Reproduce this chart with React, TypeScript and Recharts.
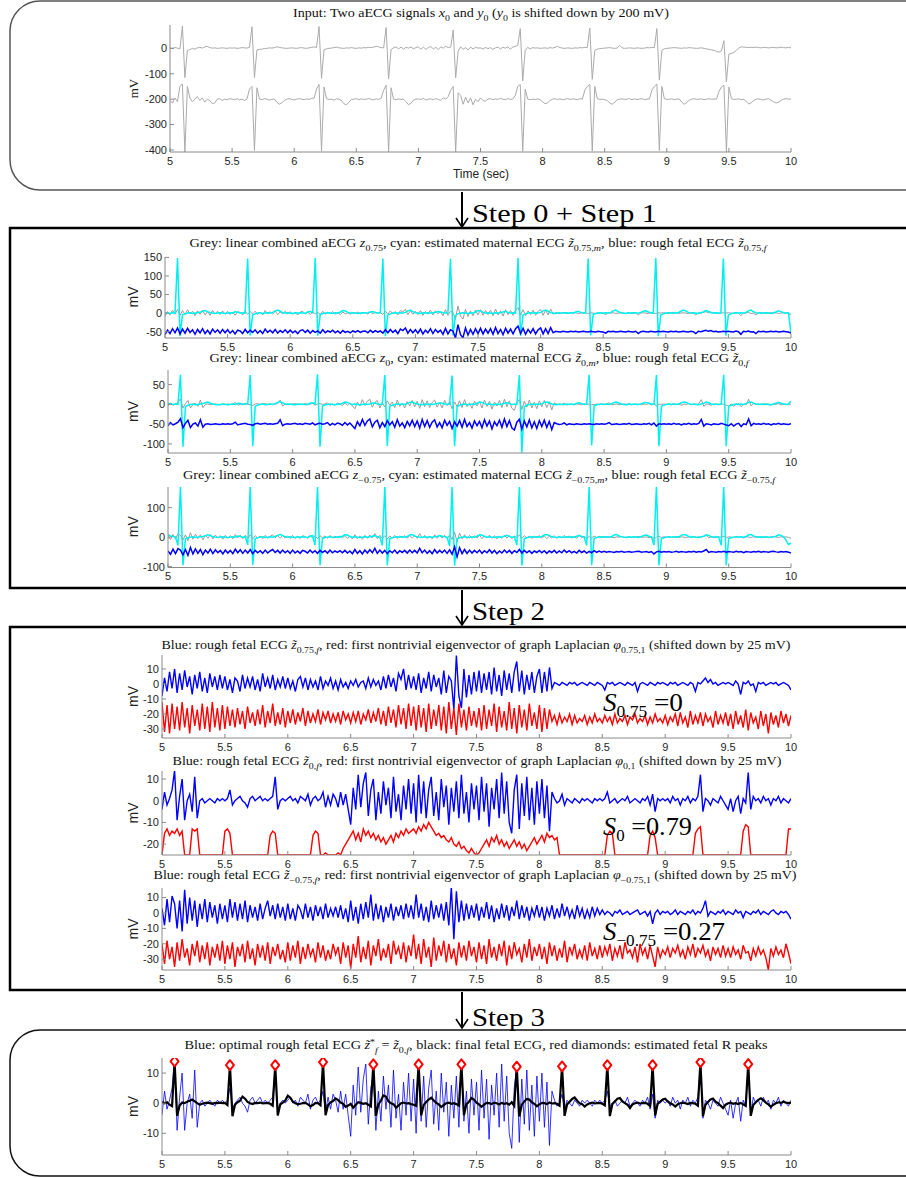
import React from 'react';
import { LineChart, Line, XAxis, YAxis } from 'recharts';

// Signals in mV, one value every 20 ms from 5.00 s to 10.00 s (rows of 0.5 s).
const x0Rows = [
  [2, 0, 3, 1, -2, 88, -115, -8, -5, 0, -3, 2, 4, 1, 6, 8, 3, 1, 2, 0, 1, 2, 1, 0, 2],
  [1, 2, 0, 1, 3, 2, 1, 4, 85, -115, -6, -4, -3, -1, 0, 2, 1, 3, 6, 4, 2, 1, 0, 1, 2],
  [1, 0, 2, 3, 1, 0, 2, 4, 6, 3, 86, -118, -6, -2, 0, 1, 3, 5, 2, 1, 0, 2, 1, 3, 1],
  [0, 2, 1, 3, 2, 4, 3, 5, 8, 6, 3, 2, 82, -120, -5, 2, 6, -2, 5, -3, 4, 1, 5, -2, 3],
  [6, -3, 5, -4, 3, 7, -2, 4, -5, 6, 1, 8, 3, 5, 72, -116, -10, 6, -4, 3, -6, 5, -2, 4, 1],
  [2, -3, 4, -1, 3, -4, 2, 5, -2, 4, 1, 6, -3, 5, 8, 12, 78, -128, -8, 4, -2, 3, 1, 2, 0],
  [1, 2, 0, 3, 1, 4, 8, 3, 1, 0, 2, 1, 0, 2, 1, 3, 2, 4, 3, 80, -122, -8, -3, -1, 0],
  [1, 2, 3, 1, 0, 1, 12, 2, 0, 1, 2, 1, 0, 2, 1, 0, 1, 3, 2, 4, 3, 78, -125, -8, -2],
  [0, 1, 2, 3, 2, 1, 0, 2, 1, 3, 2, 1, 0, 1, 2, 0, -2, -4, -6, -8, -12, -15, -10, 30, -132],
  [-22, -20, -16, -8, 2, 6, 5, 4, 3, 4, 3, 5, 3, 2, 4, 3, 2, 3, 4, 2, 3, 5, 3, 2, 4],
  [2],
];

const y0Rows = [
  [-205, -215, -195, -210, -150, -140, -408, -150, -195, -210, -200, -190, -205, -195, -212, -200, -205, -218, -215, -200, -198, -205, -200, -202, -198],
  [-200, -202, -198, -203, -200, -205, -199, -160, -150, -402, -155, -200, -202, -198, -200, -204, -201, -199, -212, -220, -215, -205, -200, -198, -201],
  [-203, -200, -198, -200, -202, -199, -201, -197, -196, -160, -142, -405, -152, -198, -201, -200, -204, -199, -200, -205, -218, -222, -212, -202, -200],
  [-198, -202, -199, -201, -200, -198, -200, -203, -199, -201, -197, -165, -145, -408, -155, -200, -202, -199, -201, -200, -210, -222, -216, -204, -200],
  [-199, -201, -197, -203, -200, -199, -202, -198, -201, -205, -195, -200, -190, -165, -150, -408, -175, -185, -220, -192, -215, -195, -222, -200, -210],
  [-195, -205, -208, -200, -198, -202, -199, -201, -197, -200, -202, -198, -201, -199, -185, -150, -142, -405, -160, -200, -202, -200, -201, -199, -202],
  [-210, -218, -215, -205, -200, -198, -201, -199, -202, -200, -198, -201, -199, -200, -202, -198, -200, -165, -150, -142, -404, -150, -198, -201, -200],
  [-202, -205, -215, -220, -212, -203, -200, -199, -201, -200, -198, -202, -199, -201, -200, -198, -202, -200, -199, -165, -150, -140, -402, -150, -198],
  [-201, -200, -199, -202, -200, -199, -212, -220, -214, -204, -200, -198, -201, -200, -199, -202, -200, -198, -201, -199, -200, -170, -152, -145, -408],
  [-152, -198, -201, -200, -199, -202, -200, -210, -219, -214, -205, -200, -199, -201, -203, -200, -198, -205, -210, -215, -212, -205, -200, -198, -200],
  [-199],
];

const maternal075Rows = [
  [1, 0, -1, 1, 0, 148, -62, -4, -2, 0, 1, -1, 0, 1, 2, 5, 7, 4, 1, 0, -1, 0, 1, 0, -1],
  [0, 1, 0, 4, 2, 0, 1, 0, 147, -60, -5, -2, 0, 1, -1, 0, 1, 0, 2, 6, 8, 5, 1, 0, 1],
  [0, -1, 1, 0, 1, 0, -1, 3, 5, 1, 148, -61, -4, -1, 0, 1, 0, -1, 1, 0, 3, 7, 6, 2, 0],
  [1, 0, -1, 0, 1, 0, 1, 3, 4, 1, 0, 1, 147, -62, -5, -2, 0, 1, 0, 1, 0, 2, 6, 8, 4],
  [1, 0, -1, 1, 0, 1, 0, 1, 2, 4, 3, 1, 0, 1, 146, -60, -6, -2, 0, 1, 0, -1, 1, 0, 3],
  [7, 6, 2, 0, 1, 0, -1, 1, 0, 1, 3, 5, 2, 0, 1, 0, 148, -61, -5, -2, 0, 1, 0, 1, 0],
  [2, 6, 8, 5, 1, 0, -1, 1, 0, 0, 1, 0, 1, 0, 3, 5, 2, 0, 1, 147, -60, -4, -1, 0, 1],
  [0, 1, 0, 2, 6, 8, 4, 1, 0, -1, 1, 0, 1, 0, 0, 2, 5, 6, 3, 1, 0, 148, -62, -5, -2],
  [0, 1, 0, 1, 0, 1, 5, 8, 6, 2, 0, 1, 0, -1, 1, 3, 7, 5, 1, 0, 1, 0, 1, 147, -61],
  [-5, -2, 0, 1, 0, 1, 0, 2, 6, 8, 4, 1, 0, 1, 0, 1, 0, -1, 1, 3, 6, 4, 1, 0, 1],
  [-55],
];

const maternal0Rows = [
  [2, 1, 0, 1, 0, 75, -107, -6, -2, 0, 1, -1, 0, 1, 2, 4, 6, 3, 1, 0, -1, 0, 1, 0, -1],
  [0, 1, 0, 3, 2, 0, 1, 2, 74, -106, -5, -2, 0, 1, -1, 0, 1, 0, 2, 5, 7, 4, 1, 0, 1],
  [0, -1, 1, 0, 1, 0, -1, 3, 4, 1, 76, -107, -4, -1, 0, 1, 0, -1, 1, 0, 3, 6, 5, 2, 0],
  [1, 0, -1, 0, 1, 0, 1, 3, 4, 1, 0, 1, 74, -105, -5, -2, 0, 1, 0, 1, 0, 2, 5, 6, 3],
  [1, 0, -1, 1, 0, 1, 0, 1, 2, 4, 3, 1, 0, 1, 73, -106, -6, -2, 0, 1, 0, -1, 1, 0, 3],
  [6, 5, 2, 0, 1, 0, -1, 1, 0, 1, 3, 4, 2, 0, 1, 0, 74, -122, -6, -2, 0, 1, 0, 1, 0],
  [2, 5, 6, 4, 1, 0, -1, 1, 0, 0, 1, 0, 1, 0, 3, 4, 2, 0, 1, 75, -104, -4, -1, 0, 1],
  [0, 1, 0, 2, 5, 6, 3, 1, 0, -1, 1, 0, 1, 0, 0, 2, 4, 5, 3, 1, 0, 74, -106, -5, -2],
  [0, 1, 0, 1, 0, 1, 4, 6, 5, 2, 0, 1, 0, -1, 1, 3, 6, 4, 1, 0, 1, 0, 1, 75, -106],
  [-5, -2, 0, 1, 0, 1, 0, 2, 5, 6, 3, 1, 0, 1, 0, 1, 0, -1, 1, 3, 5, 3, 1, 0, 1],
  [8],
];

const maternalM075Rows = [
  [8, 4, 2, 1, -28, 172, -95, -6, -2, 0, 1, -1, 0, 1, 2, 5, 8, 5, 1, 0, -1, 0, 1, 0, -1],
  [0, 1, 0, 4, 2, 0, 1, -26, 171, -94, -5, -2, 0, 1, -1, 0, 1, 0, 2, 6, 9, 6, 1, 0, 1],
  [0, -1, 1, 0, 1, 0, -1, 3, 5, -27, 172, -95, -4, -1, 0, 1, 0, -1, 1, 0, 3, 8, 7, 2, 0],
  [1, 0, -1, 0, 1, 0, 1, 3, 5, 1, 0, -28, 171, -96, -5, -2, 0, 1, 0, 1, 0, 2, 7, 9, 4],
  [1, 0, -1, 1, 0, 1, 0, 1, 2, 5, 3, 1, 0, -30, 170, -97, -6, -2, 0, 1, 0, -1, 1, 0, 3],
  [8, 7, 2, 0, 1, 0, -1, 1, 0, 1, 3, 6, 2, 0, 1, -27, 172, -96, -5, -2, 0, 1, 0, 1, 0],
  [2, 7, 9, 5, 1, 0, -1, 1, 0, 0, 1, 0, 1, 0, 3, 6, 2, 0, -28, 171, -95, -4, -1, 0, 1],
  [0, 1, 0, 2, 7, 9, 4, 1, 0, -1, 1, 0, 1, 0, 0, 2, 6, 7, 3, 1, -27, 172, -96, -5, -2],
  [0, 1, 0, 1, 0, 1, 6, 9, 7, 2, 0, 1, 0, -1, 1, 3, 8, 6, 1, 0, 1, 0, -28, 171, -95],
  [-5, -2, 0, 1, 0, 1, 0, 2, 7, 9, 4, 1, 0, 1, 0, 1, 0, -1, 1, 3, 8, 6, 1, -10, -25],
  [-20],
];

// rough fetal ECGs
const fetal075Rows = [
  [-8, 4, -5, 8, -3, 10, -6, 7, -4, 9, -2, 5, -7, 6, -3, 8, -5, 4, -6, 7, -2, 5, -4, 6, -3],
  [5, -4, 3, -6, 4, 2, -5, 6, -3, 4, -2, 5, -4, 3, -5, 7, -2, 4, -3, 6, -4, 3, -2, 5, -3],
  [4, -3, 2, -5, 3, 5, -2, 4, -4, 3, -2, 2, -4, 5, -3, 2, -1, 4, -3, 2, -4, 3, -2, 1, -3],
  [2, -1, 3, -2, 1, 2, -3, 4, -2, 3, -1, 2, -4, 5, -3, 6, -2, 4, -5, 7, 3, 10, -4, 6, -3],
  [5, -4, 7, -6, 4, -3, 8, -5, 6, -2, 4, -7, 9, -6, 5, 2, -17, 19, -8, -16, 10, -9, 6, -7, 8],
  [-5, 9, -6, 7, -4, 8, -7, 11, -5, 6, -8, 9, -4, 7, -6, 8, 15, -5, 9, -7, 6, -4, 8, -6, 5],
  [10, -6, 8, -5, 11, -3, 1, 0, -1, 1, 0, -1, 1, 0, 1, -1, 0, 1, 0, -1, 1, 0, -1, 1, 0],
  [-1, -4, 1, 0, 1, -1, 0, 1, 0, -1, 1, 0, -1, 1, -5, 0, 1, 0, -1, 1, 0, -1, 1, 0, 1],
  [0, -1, 1, 0, 1, -1, 0, 1, 0, -1, 1, 0, -5, 1, 0, 2, 4, 1, 3, 0, 1, -1, 0, 1, 0],
  [1, 0, -1, 2, 0, -7, 1, 0, 2, -1, 0, -5, 1, 0, 1, -1, 0, 1, 0, 1, -1, 0, 1, 0, -1],
  [-4],
];

const fetal0Rows = [
  [-4, 4, -2, 1, 5, 14, -9, 2, 10, -9, 0, 3, -5, 11, -8, 0, 1, -1, 0, 1, 0, -1, 1, 0, 1],
  [0, 1, 5, -2, 0, 1, 2, 0, -1, -3, 1, 2, 0, 1, 2, 0, 1, 0, 1, 2, 11, -4, 0, 1, 0],
  [1, 2, 0, 1, -1, 2, 1, 0, 3, -2, 1, 2, 0, 1, 4, -3, 2, -2, 3, 1, -3, 4, -2, 3, -4],
  [-11, 6, -4, 12, -3, 8, 13, -7, 5, 10, -9, 4, -6, 9, -2, 6, -8, 11, -5, 3, -9, 7, -4, 10, -6],
  [8, -10, 12, -6, 9, -8, 5, 11, -7, 4, -9, 10, -3, 7, -11, 6, -5, 9, -8, 12, -6, 4, -10, 8, -4],
  [7, -9, 11, -5, 8, -12, 6, -4, 10, -8, 13, -6, 9, -10, -15, 5, 12, -13, 8, -7, 11, -9, 6, -11, 9],
  [-6, 10, -8, 7, -14, 4, 1, -1, 0, 3, -2, 1, 0, -1, 1, 0, -1, 1, 0, 1, 0, -1, 1, 0, 1],
  [0, 1, 4, -1, 0, 1, -1, 0, 1, 0, 2, -1, 0, 1, 0, -1, 1, 0, 2, -2, 3, -5, 1, 0, 1],
  [0, 1, -1, 2, 0, 1, -2, 1, 0, 2, -1, 1, 0, 2, 12, -5, 1, 0, -2, 1, 0, -1, 2, 0, -2],
  [-4, 1, -5, 0, 2, -6, 1, -1, 13, -4, 2, 0, 1, -1, 2, 0, 1, -2, 1, 0, 2, -1, 1, 0, -1],
  [1],
];

const fetalM075Rows = [
  [3, -8, 9, -6, 11, 6, -10, 8, -12, 15, -7, 10, -5, 8, -9, 6, -4, 9, -6, 7, -3, 5, -7, 6, -4],
  [5, -6, 9, -3, 7, -5, 6, -4, 8, -6, 5, -3, 4, -5, 6, -4, 3, 8, -2, 5, -4, 6, -3, 4, -5],
  [6, -4, 3, -5, 5, 2, -4, 6, -3, 4, -5, 5, -2, 4, -4, 6, -3, 3, -2, 4, -3, 5, -4, 3, -6],
  [8, -5, 4, -7, 6, -4, 7, -3, 12, -5, 6, -4, 5, -6, 4, -3, 6, -5, 4, -2, 5, -4, 6, -3, 5],
  [-4, 12, -3, 6, -5, 4, -6, 8, -4, 5, -3, 6, -5, 7, -8, 17, -17, 14, -6, 8, -5, 6, -4, 5, -3],
  [6, -5, 4, -3, 7, -4, 5, -6, 3, -4, 6, -3, 5, -5, 4, -2, 8, -4, 5, -3, 4, -5, 3, -2, 5],
  [-3, 4, -5, 3, -2, 5, -4, 3, -3, 6, -2, 4, -3, 2, -4, 5, -2, 3, -4, 2, -3, 4, -2, 3, -1],
  [2, -1, 1, 0, -2, 1, 0, 2, -1, 0, 1, -1, 0, 1, 2, -1, 0, 1, -2, 1, -7, 0, 2, -1, 1],
  [0, 1, -1, 0, 2, -1, 1, 0, -1, 1, 0, 2, -1, 1, 0, 3, 8, -2, 1, 0, -1, 1, 0, 2, -1],
  [1, 0, -1, 2, 0, 1, -3, 1, 0, -1, 1, 0, 2, -1, 1, 0, -1, 1, 2, 0, -1, 1, 0, 1, -1],
  [-4],
];

// first nontrivial eigenvectors (already shifted down by 25 mV)
const eig075Rows = [
  [-12, -32, -14, -33, -13, -30, -15, -31, -12, -29, -16, -33, -14, -28, -17, -31, -13, -30, -15, -32, -12, -29, -16, -31, -14],
  [-30, -15, -28, -17, -29, -16, -27, -18, -30, -15, -26, -19, -28, -17, -27, -14, -29, -18, -26, -13, -28, -19, -27, -16, -29],
  [-18, -26, -17, -27, -19, -25, -16, -28, -18, -26, -20, -25, -17, -27, -19, -24, -18, -26, -20, -25, -19, -27, -18, -24, -20],
  [-26, -19, -25, -18, -27, -20, -24, -17, -26, -19, -25, -16, -27, -18, -28, -15, -26, -17, -29, -14, -27, -16, -30, -13, -28],
  [-15, -31, -14, -29, -16, -32, -13, -30, -17, -28, -14, -31, -15, -33, -12, -30, -16, -34, -13, -29, -17, -31, -15, -28, -18],
  [-29, -16, -31, -14, -30, -17, -28, -13, -32, -15, -29, -18, -31, -12, -30, -16, -33, -14, -29, -17, -31, -13, -28, -19, -30],
  [-14, -32, -16, -30, -17, -25, -21, -27, -20, -26, -22, -25, -20, -27, -21, -26, -23, -25, -21, -27, -22, -26, -20, -25, -23],
  [-26, -21, -25, -22, -27, -20, -26, -23, -25, -21, -27, -22, -24, -20, -26, -23, -25, -21, -27, -22, -26, -20, -25, -23, -26],
  [-21, -27, -22, -25, -20, -28, -19, -26, -22, -29, -18, -27, -21, -26, -19, -28, -20, -25, -22, -29, -18, -27, -21, -26, -19],
  [-28, -20, -30, -18, -27, -21, -29, -17, -31, -19, -26, -22, -30, -18, -28, -20, -33, -19, -27, -21, -29, -18, -26, -20, -28],
  [-21],
];

const eig0Rows = [
  [-25, -15, -13, -16, -14, -15, -13, -16, -14, -25, -25, -25, -13, -14, -13, -25, -25, -25, -25, -25, -25, -25, -25, -25, -25],
  [-14, -13, -15, -25, -25, -25, -25, -25, -25, -25, -25, -25, -25, -25, -25, -25, -25, -25, -16, -14, -15, -25, -25, -25, -25],
  [-25, -25, -25, -25, -25, -25, -25, -25, -25, -25, -16, -14, -15, -25, -25, -24, -25, -25, -25, -25, -24, -25, -22, -20, -18],
  [-16, -14, -18, -15, -19, -13, -16, -14, -17, -15, -18, -16, -19, -17, -20, -18, -16, -19, -15, -17, -14, -16, -13, -15, -14],
  [-13, -15, -12, -14, -11, -13, -10, -12, -14, -16, -15, -17, -16, -18, -19, -17, -20, -21, -19, -22, -21, -23, -24, -22, -24],
  [-25, -24, -22, -20, -18, -21, -17, -19, -16, -20, -18, -21, -19, -22, -20, -18, -21, -19, -22, -20, -23, -21, -19, -17, -20],
  [-18, -16, -19, -15, -17, -16, -18, -17, -25, -25, -25, -25, -25, -25, -25, -25, -25, -25, -25, -25, -25, -25, -25, -25, -25],
  [-25, -25, -16, -14, -15, -25, -25, -25, -25, -25, -25, -25, -25, -25, -25, -25, -25, -25, -25, -16, -14, -17, -25, -25, -25],
  [-25, -25, -25, -25, -25, -25, -25, -25, -25, -25, -25, -25, -15, -13, -12, -25, -25, -25, -25, -25, -25, -25, -25, -25, -25],
  [-25, -25, -25, -25, -25, -25, -14, -11, -12, -25, -25, -25, -25, -25, -25, -25, -25, -25, -25, -25, -25, -25, -25, -25, -13],
  [-13],
];

const eigM075Rows = [
  [-20, -33, -18, -30, -22, -35, -19, -31, -17, -29, -23, -34, -20, -28, -18, -32, -21, -30, -19, -34, -22, -29, -20, -31, -18],
  [-33, -21, -30, -19, -35, -22, -28, -20, -32, -18, -30, -23, -34, -20, -29, -21, -31, -19, -33, -22, -28, -20, -30, -24, -32],
  [-19, -31, -21, -29, -18, -33, -22, -30, -20, -28, -23, -32, -19, -29, -21, -31, -24, -30, -20, -27, -22, -33, -19, -29, -21],
  [-36, -20, -29, -15, -32, -22, -30, -18, -34, -21, -28, -17, -31, -23, -29, -20, -33, -18, -27, -22, -30, -19, -32, -21, -28],
  [-14, -30, -20, -33, -17, -29, -22, -35, -16, -31, -21, -28, -18, -32, -20, -30, -23, -34, -19, -29, -21, -31, -18, -28, -22],
  [-32, -19, -30, -21, -33, -17, -29, -22, -31, -20, -28, -18, -34, -21, -30, -19, -27, -23, -32, -20, -29, -17, -31, -22, -28],
  [-20, -30, -22, -33, -19, -28, -21, -31, -23, -29, -18, -32, -22, -27, -20, -30, -24, -29, -21, -31, -19, -28, -23, -30, -21],
  [-29, -22, -27, -20, -31, -23, -28, -21, -30, -19, -26, -24, -29, -22, -32, -20, -27, -23, -30, -21, -28, -35, -22, -29, -24],
  [-27, -22, -29, -23, -26, -21, -28, -24, -30, -22, -27, -20, -29, -23, -26, -21, -28, -24, -31, -22, -27, -23, -29, -21, -28],
  [-23, -29, -22, -27, -24, -30, -21, -26, -25, -31, -23, -28, -22, -27, -24, -29, -37, -23, -28, -22, -27, -24, -29, -20, -26],
  [-33],
];

// final fetal ECG and its R peaks
const finalFetalRows = [
  [0.5, 0, 0.3, -0.5, -1, 13.9, -4.2, -0.8, 0.2, 0, 0.5, 0.8, 1.2, 0.6, 0, -0.5, -0.2, 0, 0.2, 0, -0.2, 0.1, 0, 0.2, 0],
  [0.1, -0.6, 12.6, -4.3, -0.5, 0.3, 0.8, 2.2, 1.5, 0.4, 0, -0.3, 0.1, 0, 0.2, -0.1, 0, 0.1, -0.2, -0.8, 12.6, -4.1, -0.4, 0.2, 0.9],
  [2.5, 1.8, 0.5, 0, -0.3, -0.2, 0, 0.1, -0.4, -1, -0.6, 0.1, 0, -0.7, 13.6, -4, -0.6, 0.3, 0.7, 1.6, 1.0, 0.2, -0.2, -1.2, -0.8],
  [-0.2, -1.5, -0.5, 0.3, 0.1, -0.2, 0, -0.5, -1.1, 12.9, -4.2, -0.4, 0.8, 2.6, 2.2, 0.6, 0, -0.3, -1.5, -0.8, 0, 0.2, -0.1, 0, -0.3],
  [-0.5, -0.9, 12.9, -4.1, -0.6, 0.4, 1.2, 1.8, 0.9, 0.1, -0.4, -1.3, -0.6, 0, 0.2, -0.2, 0, -0.3, -0.8, 12.9, -4, -0.3, 0.5, 1.7, 1.2],
  [0.2, -0.4, -1.2, -0.5, 0.1, 0, -0.3, 0.2, 0, -0.4, 0.1, -0.2, 0, -0.5, 0.3, -0.9, 12.1, -4.4, -0.5, 0.6, 1.4, 1.2, 0.3, -0.2, -1],
  [-0.4, 0.1, 0, -0.3, 0.2, -0.1, 0, -0.2, -0.8, 12.2, -4.2, -0.4, 0.5, 1.4, 1.9, 0.8, 0, -0.3, -1.1, -0.4, 0, 0.2, -0.1, 0, 0.1],
  [-0.2, -0.7, 12.6, -4.3, -0.3, 0.6, 1.5, 1.7, 0.6, 0, -0.5, -1.6, -0.4, 0, 0.2, -0.1, 0, 0.1, -0.2, -0.9, 12.6, -4.1, -0.2, 0.5, 1.2],
  [1.5, 0.6, 0, -0.4, -1.1, -0.3, 0, 0.2, 0, -0.3, 0.1, 0, -0.2, -0.8, 13.6, -4.3, -0.5, 0.4, 1.2, 1.5, 0.5, 0, -0.8, -1.6, -0.5],
  [0, 0.2, -0.2, 0, -0.3, 0.1, -0.4, -0.9, 13.0, -4.2, -0.6, 0.3, 1.1, 1.6, 1.0, 0.2, -0.4, -1.2, -0.5, 0, 0.3, 0.1, 0.5, 0.2, 0],
  [0.2],
];

const peakTimes = [5.1, 5.54, 5.9, 6.28, 6.68, 7.04, 7.38, 7.82, 8.18, 8.54, 8.9, 9.28, 9.66];
const peakValues = [13.9, 12.6, 12.6, 13.6, 12.9, 12.9, 12.9, 12.1, 12.2, 12.6, 12.6, 13.6, 13.0];

const xTicks = [5, 5.5, 6, 6.5, 7, 7.5, 8, 8.5, 9, 9.5, 10];

const T0 = 5;
const DT = 0.02;
const W = 906;
const H = 1178;
const RIGHT = 791;
const PAD_T = 12;
const AX_H = 30;
const YW = 40;

const SERIF = '"Liberation Serif", "Times New Roman", serif';
const SANS = '"Liberation Sans", Arial, sans-serif';

const x0 = x0Rows.flat();
const y0 = y0Rows.flat();
const mat075 = maternal075Rows.flat();
const mat0 = maternal0Rows.flat();
const matM075 = maternalM075Rows.flat();
const fet075 = fetal075Rows.flat();
const fet0 = fetal0Rows.flat();
const fetM075 = fetalM075Rows.flat();
const eig075 = eig075Rows.flat();
const eig0 = eig0Rows.flat();
const eigM075 = eigM075Rows.flat();
const finalFetal = finalFetalRows.flat();

const peakCol: (number | undefined)[] = [];
peakTimes.forEach((t, k) => { peakCol[Math.round((t - T0) / DT)] = peakValues[k]; });

// blue traces in step 1 are drawn 50 mV below the others
const down50 = (arr: number[]) => arr.map(v => v - 50);

function table(cols: Record<string, (number | undefined)[]>) {
  const keys = Object.keys(cols);
  const n = cols[keys[0]].length;
  return Array.from({ length: n }, (_, i) => {
    const row: Record<string, number | undefined> = { t: Math.round((T0 + i * DT) * 100) / 100 };
    keys.forEach(k => { row[k] = cols[k][i]; });
    return row;
  });
}

type LineCfg = { key: string; color: string; width: number };
type PanelCfg = {
  top: number; bottom: number; left: number;
  domain: [number, number]; ticks: number[];
  data: Record<string, number | undefined>[]; lines: LineCfg[]; diamonds?: boolean;
};

const GREY = '#9a9a9a';
const CYAN = '#00f0f0';
const BLUE = '#0000ff';
const RED = '#ff0000';

const panels: PanelCfg[] = [
  {
    top: 25, bottom: 152, left: 170, domain: [-408, 92], ticks: [-400, -300, -200, -100, 0],
    data: table({ x0, y0 }),
    lines: [{ key: 'x0', color: '#ababab', width: 1 }, { key: 'y0', color: '#ababab', width: 1 }],
  },
  {
    top: 256.5, bottom: 337.5, left: 165, domain: [-67, 151], ticks: [-50, 0, 50, 100, 150],
    data: table({ g: fet075, c: mat075, b: down50(fet075) }),
    lines: [{ key: 'g', color: GREY, width: 1 }, { key: 'c', color: CYAN, width: 1.5 }, { key: 'b', color: BLUE, width: 1.5 }],
  },
  {
    top: 370, bottom: 453, left: 168, domain: [-123, 87], ticks: [-100, -50, 0, 50],
    data: table({ g: fet0, c: mat0, b: down50(fet0) }),
    lines: [{ key: 'g', color: GREY, width: 1 }, { key: 'c', color: CYAN, width: 1.5 }, { key: 'b', color: BLUE, width: 1.5 }],
  },
  {
    top: 486.5, bottom: 567, left: 168, domain: [-103, 170], ticks: [-100, 0, 100],
    data: table({ g: fetM075, c: matM075, b: down50(fetM075) }),
    lines: [{ key: 'g', color: GREY, width: 1 }, { key: 'c', color: CYAN, width: 1.5 }, { key: 'b', color: BLUE, width: 1.5 }],
  },
  {
    top: 655, bottom: 738, left: 162, domain: [-36, 19.3], ticks: [-30, -20, -10, 0, 10],
    data: table({ b: fet075, r: eig075 }),
    lines: [{ key: 'b', color: BLUE, width: 1.4 }, { key: 'r', color: RED, width: 1.4 }],
  },
  {
    top: 771, bottom: 855, left: 162, domain: [-25, 13.7], ticks: [-20, -10, 0, 10],
    data: table({ b: fet0, r: eig0 }),
    lines: [{ key: 'b', color: BLUE, width: 1.4 }, { key: 'r', color: RED, width: 1.4 }],
  },
  {
    top: 888, bottom: 970, left: 162, domain: [-37, 16.2], ticks: [-30, -20, -10, 0, 10],
    data: table({ b: fetM075, r: eigM075 }),
    lines: [{ key: 'b', color: BLUE, width: 1.4 }, { key: 'r', color: RED, width: 1.4 }],
  },
  {
    top: 1058, bottom: 1155, left: 162, domain: [-17.2, 15], ticks: [-10, 0, 10],
    data: table({ b: fet0, k: finalFetal, pk: peakCol }),
    lines: [{ key: 'b', color: BLUE, width: 0.8 }, { key: 'k', color: '#000', width: 2.2 }],
    diamonds: true,
  },
];

type Seg = [string, 'n' | 'i' | 's' | 'si' | 'p'];
const Z = 'z\u0303';

const titles: { x: number; y: number; w: number; segs: Seg[] }[] = [
  { x: 481, y: 17, w: 376, segs: [['Input: Two aECG signals ', 'n'], ['x', 'i'], ['0', 's'], [' and ', 'n'], ['y', 'i'], ['0', 's'], [' (', 'n'], ['y', 'i'], ['0', 's'], [' is shifted down by 200 mV)', 'n']] },
  { x: 478, y: 247, w: 577, segs: [['Grey: linear combined aECG ', 'n'], ['z', 'i'], ['0.75', 's'], [', cyan: estimated maternal ECG ', 'n'], [Z, 'i'], ['0.75,', 's'], ['m', 'si'], [', blue: rough fetal ECG ', 'n'], [Z, 'i'], ['0.75,', 's'], ['f', 'si']] },
  { x: 479, y: 362, w: 539, segs: [['Grey: linear combined aECG ', 'n'], ['z', 'i'], ['0', 's'], [', cyan: estimated maternal ECG ', 'n'], [Z, 'i'], ['0,', 's'], ['m', 'si'], [', blue: rough fetal ECG ', 'n'], [Z, 'i'], ['0,', 's'], ['f', 'si']] },
  { x: 479, y: 479, w: 592, segs: [['Grey: linear combined aECG ', 'n'], ['z', 'i'], ['\u22120.75', 's'], [', cyan: estimated maternal ECG ', 'n'], [Z, 'i'], ['\u22120.75,', 's'], ['m', 'si'], [', blue: rough fetal ECG ', 'n'], [Z, 'i'], ['\u22120.75,', 's'], ['f', 'si']] },
  { x: 476, y: 649, w: 629, segs: [['Blue: rough fetal ECG ', 'n'], [Z, 'i'], ['0.75,', 's'], ['f', 'si'], [', red: first nontrivial eigenvector of graph Laplacian ', 'n'], ['\u03c6', 'i'], ['0.75,1', 's'], [' (shifted down by 25 mV)', 'n']] },
  { x: 477, y: 765, w: 609, segs: [['Blue: rough fetal ECG ', 'n'], [Z, 'i'], ['0,', 's'], ['f', 'si'], [', red: first nontrivial eigenvector of graph Laplacian ', 'n'], ['\u03c6', 'i'], ['0,1', 's'], [' (shifted down by 25 mV)', 'n']] },
  { x: 475, y: 879, w: 643, segs: [['Blue: rough fetal ECG ', 'n'], [Z, 'i'], ['\u22120.75,', 's'], ['f', 'si'], [', red: first nontrivial eigenvector of graph Laplacian ', 'n'], ['\u03c6', 'i'], ['\u22120.75,1', 's'], [' (shifted down by 25 mV)', 'n']] },
  { x: 476, y: 1049, w: 583, segs: [['Blue: optimal rough fetal ECG ', 'n'], [Z, 'i'], ['*', 'p'], ['f', 'si'], [' = ', 'n'], [Z, 'i'], ['0,', 's'], ['f', 'si'], [', black: final fetal ECG, red diamonds: estimated fetal R peaks', 'n']] },
];

function Rich({ segs, size }: { segs: Seg[]; size: number }) {
  let shift = 0;
  return (
    <>
      {segs.map(([txt, st], k) => {
        const target = st === 's' || st === 'si' ? size * 0.3 : st === 'p' ? -size * 0.35 : 0;
        const dy = target - shift;
        shift = target;
        return (
          <tspan key={k} dy={dy !== 0 ? dy : undefined} fontSize={target !== 0 ? size * 0.7 : size}
            fontStyle={st === 'i' || st === 'si' ? 'italic' : 'normal'}>{txt}</tspan>
        );
      })}
    </>
  );
}

const renderDiamond = (props: any) => {
  const { cx, cy, value, index } = props;
  if (value == null || cx == null || cy == null) return <g key={`d${index}`} />;
  return (
    <path key={`d${index}`} d={`M${cx},${cy - 5} L${cx + 4},${cy} L${cx},${cy + 5} L${cx - 4},${cy} Z`}
      fill="#fff" stroke={RED} strokeWidth={2} strokeLinejoin="round" />
  );
};

const axisStroke = '#8a8a8a';
const tickStyle = { fill: '#262626', fontSize: 11, fontFamily: SANS };

function Panel({ cfg }: { cfg: PanelCfg }) {
  const plotH = cfg.bottom - cfg.top;
  return (
    <div style={{ position: 'absolute', left: 0, top: cfg.top - PAD_T }}>
      <LineChart width={W} height={plotH + PAD_T + AX_H} data={cfg.data}
        margin={{ top: PAD_T, right: W - RIGHT, bottom: 0, left: cfg.left - YW }}>
        <XAxis dataKey="t" type="number" domain={[5, 10]} ticks={xTicks} interval={0} allowDataOverflow
          height={AX_H} tickSize={-4} tickMargin={9} stroke={axisStroke} tick={tickStyle} />
        <XAxis xAxisId="top" orientation="top" dataKey="t" type="number" domain={[5, 10]} ticks={xTicks}
          interval={0} allowDataOverflow height={0} tickSize={-4} tick={false} stroke={axisStroke} />
        <YAxis type="number" domain={cfg.domain} ticks={cfg.ticks} interval={0} allowDataOverflow
          width={YW} tickSize={-4} tickMargin={7} stroke={axisStroke} tick={tickStyle} />
        <YAxis yAxisId="right" orientation="right" type="number" domain={cfg.domain} ticks={cfg.ticks}
          interval={0} allowDataOverflow width={0} tickSize={-4} tick={false} stroke={axisStroke} />
        {cfg.lines.map(l => (
          <Line key={l.key} dataKey={l.key} type="linear" stroke={l.color} strokeWidth={l.width}
            dot={false} activeDot={false} isAnimationActive={false} />
        ))}
        {cfg.diamonds && (
          <Line dataKey="pk" stroke="none" dot={renderDiamond} activeDot={false} isAnimationActive={false} />
        )}
      </LineChart>
    </div>
  );
}

function Arrow({ y1, y2, label, len, base }: { y1: number; y2: number; label: string; len: number; base: number }) {
  return (
    <g>
      <line x1={462} y1={y1} x2={462} y2={y2} stroke="#000" strokeWidth={2} />
      <path d={`M456,${y2 - 9} L462,${y2} L468,${y2 - 9}`} fill="none" stroke="#000" strokeWidth={1.6} />
      <text x={472} y={base} fontFamily={SERIF} fontSize={26} textLength={len} lengthAdjust="spacingAndGlyphs">{label}</text>
    </g>
  );
}

function Score({ x, y, w, sub, val }: { x: number; y: number; w: number; sub: string; val: string }) {
  return (
    <text x={x} y={y} fontFamily={SERIF} fontSize={25} textLength={w} lengthAdjust="spacingAndGlyphs" style={{ whiteSpace: 'pre' }}>
      <tspan fontStyle="italic">S</tspan>
      <tspan dy={6} fontSize={16}>{sub}</tspan>
      <tspan dy={-6}>{` =${val}`}</tspan>
    </text>
  );
}

export default function App() {
  return (
    <div style={{ position: 'absolute', left: 0, top: 0, width: W, height: H, background: '#fff', overflow: 'hidden' }}>
      {panels.map((p, i) => <Panel key={i} cfg={p} />)}
      <svg width={W} height={H} style={{ position: 'absolute', left: 0, top: 0, pointerEvents: 'none' }}>
        <rect x={10} y={1} width={930} height={189} rx={30} fill="none" stroke="#555" strokeWidth={1.5} />
        <rect x={10} y={228} width={930} height={360} fill="none" stroke="#000" strokeWidth={2.5} />
        <rect x={10} y={627} width={930} height={363} fill="none" stroke="#000" strokeWidth={2.5} />
        <rect x={10} y={1030} width={930} height={146} rx={30} fill="none" stroke="#111" strokeWidth={1.5} />

        <Arrow y1={192} y2={227} label="Step 0 + Step 1" len={185} base={222} />
        <Arrow y1={590} y2={625} label="Step 2" len={73} base={620} />
        <Arrow y1={992} y2={1028} label="Step 3" len={73} base={1026} />

        {titles.map((t, i) => (
          <text key={i} x={t.x} y={t.y} textAnchor="middle" fontFamily={SERIF} fontSize={12.5} fill="#111"
            textLength={t.w} lengthAdjust="spacingAndGlyphs" style={{ whiteSpace: 'pre' }}>
            <Rich segs={t.segs} size={12.5} />
          </text>
        ))}

        {panels.map((p, i) => (
          <text key={i} transform={`translate(138,${(p.top + p.bottom) / 2}) rotate(-90)`} textAnchor="middle"
            fontFamily={i === 0 ? SERIF : SANS} fontSize={i === 0 ? 13 : 14} fill="#222">mV</text>
        ))}
        <text x={481} y={178} textAnchor="middle" fontFamily={SANS} fontSize={12} fill="#222">Time (sec)</text>

        <Score x={603} y={711} w={80} sub="0.75" val="0" />
        <Score x={603} y={835} w={89} sub="0" val="0.79" />
        <Score x={603} y={940} w={122} sub={'\u22120.75'} val="0.27" />
      </svg>
    </div>
  );
}
